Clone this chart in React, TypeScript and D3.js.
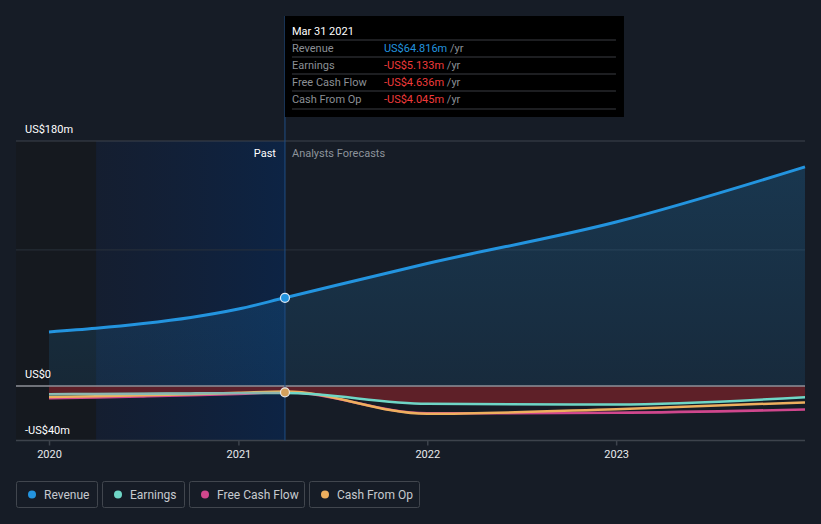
import React from "react";
import * as d3 from "d3";

const W = 821;
const H = 524;

const revenueDates = ["2019-12-31", "2020-03-31", "2020-06-30", "2020-09-30", "2020-12-31", "2021-03-31", "2021-12-31", "2022-12-31", "2023-12-31"];
const revenueValues = [39.7, 42.4, 45.9, 50.4, 56.6, 64.816, 90.0, 120.5, 161.0];

const earnDates = ["2019-12-31", "2020-03-31", "2020-06-30", "2020-09-30", "2020-12-31", "2021-03-31", "2021-12-31", "2022-12-31", "2023-12-31"];
const earningsValues = [-6.0, -5.8, -5.6, -5.4, -5.2, -5.133, -13.0, -13.6, -8.2];
const fcfValues = [-9.0, -8.4, -7.6, -6.8, -5.8, -4.636, -20.0, -19.6, -17.2];
const cfoValues = [-8.0, -7.5, -6.8, -6.0, -5.0, -4.045, -20.4, -17.0, -12.0];

const yTickValues = [180, 0, -40];
const yTickLabels = ["US$180m", "US$0", "-US$40m"];
const yGridValues = [180, 100];
const xTickYears = ["2020", "2021", "2022", "2023"];

const legendNames = ["Revenue", "Earnings", "Free Cash Flow", "Cash From Op"];
const legendColors = ["#2394df", "#6fd6c6", "#d0478d", "#eeaf5e"];

const tooltipDate = "Mar 31 2021";
const tooltipLabels = ["Revenue", "Earnings", "Free Cash Flow", "Cash From Op"];
const tooltipValues = ["US$64.816m", "-US$5.133m", "-US$4.636m", "-US$4.045m"];

const pastDate = "2021-03-31";
const highlightStart = "2020-03-31";

const parse = d3.timeParse("%Y-%m-%d");

export default function App() {
  const x = d3
    .scaleTime()
    .domain([parse("2019-12-31")!, parse("2023-12-31")!])
    .range([49, 805]);
  const y = d3.scaleLinear().domain([-40, 180]).range([440.5, 141]);

  const rev = revenueDates.map((d, i) => ({ d: parse(d)!, v: revenueValues[i] }));
  const earn = earnDates.map((d, i) => ({ d: parse(d)!, v: earningsValues[i] }));
  const fcf = earnDates.map((d, i) => ({ d: parse(d)!, v: fcfValues[i] }));
  const cfo = earnDates.map((d, i) => ({ d: parse(d)!, v: cfoValues[i] }));

  const line = d3
    .line<{ d: Date; v: number }>()
    .x((p) => x(p.d))
    .y((p) => y(p.v))
    .curve(d3.curveMonotoneX);
  const area = d3
    .area<{ d: Date; v: number }>()
    .x((p) => x(p.d))
    .y0(y(0))
    .y1((p) => y(p.v))
    .curve(d3.curveMonotoneX);

  const px = x(parse(pastDate)!);
  const hx = x(parse(highlightStart)!);
  const y0 = y(0);
  const font = "Roboto, 'Open Sans', sans-serif";

  const legendBoxes = [
    { x: 16, w: 81 },
    { x: 102, w: 82 },
    { x: 189, w: 115 },
    { x: 309, w: 110 },
  ];

  return (
    <svg width={W} height={H} style={{ position: "absolute", left: 0, top: 0, display: "block" }}>
      <defs>
        <linearGradient id="pastGrad" x1="0" x2="1" y1="0" y2="0">
          <stop offset="0%" stopColor="#13203a" stopOpacity={0.5} />
          <stop offset="100%" stopColor="#0c2446" stopOpacity={0.95} />
        </linearGradient>
        <linearGradient id="revGrad" x1="0" x2="0" y1="0" y2="1">
          <stop offset="0%" stopColor="#2394df" stopOpacity={0.22} />
          <stop offset="100%" stopColor="#2394df" stopOpacity={0.12} />
        </linearGradient>
        <clipPath id="clipPast">
          <rect x={0} y={0} width={px} height={H} />
        </clipPath>
      </defs>
      <rect x={0} y={0} width={W} height={H} fill="#161c26" />
      <rect x={16} y={141} width={hx - 16} height={y(-40) - 141} fill="#15191f" />
      <rect x={hx} y={141} width={px - hx} height={y(-40) - 141} fill="url(#pastGrad)" />

      {yGridValues.map((v) => (
        <line key={v} x1={16} x2={805} y1={y(v)} y2={y(v)} stroke={v === 180 ? "#3c434d" : "#2a313b"} strokeWidth={1} />
      ))}

      <path d={area(rev) ?? ""} fill="url(#revGrad)" />
      <path d={area(earn) ?? ""} fill="#6b2129" fillOpacity={0.85} />

      <line x1={16} x2={805} y1={y0} y2={y0} stroke="#8e9198" strokeWidth={1.5} />
      <line x1={16} x2={805} y1={y(-40)} y2={y(-40)} stroke="#3d434c" strokeWidth={1.5} />

      <line x1={px} x2={px} y1={16} y2={y(-40)} stroke="#1f4d85" strokeWidth={1} />

      <path d={line(fcf) ?? ""} fill="none" stroke={legendColors[2]} strokeWidth={2.5} />
      <path d={line(cfo) ?? ""} fill="none" stroke={legendColors[3]} strokeWidth={2.5} />
      <path d={line(earn) ?? ""} fill="none" stroke={legendColors[1]} strokeWidth={2.5} />
      <g clipPath="url(#clipPast)">
        <path d={line(earn) ?? ""} fill="none" stroke="#a09ea0" strokeWidth={2} strokeOpacity={0.6} />
      </g>
      <path d={line(rev) ?? ""} fill="none" stroke={legendColors[0]} strokeWidth={3} />

      <circle cx={px} cy={y(64.816)} r={4.5} fill={legendColors[0]} stroke="#dce8f5" strokeWidth={1.2} />
      <circle cx={px} cy={y(-4.6)} r={4.5} fill="#d4a05c" stroke="#e8e8e8" strokeWidth={1.2} />

      {yTickValues.map((v, i) => (
        <text
          key={v}
          x={25}
          y={y(v) - (v === -40 ? 7 : 8)}
          fill="#ffffff"
          fontFamily={font}
          fontSize={11}
        >
          {yTickLabels[i]}
        </text>
      ))}

      {xTickYears.map((yr) => {
        const xx = x(parse(`${yr}-01-01`)!);
        return (
          <g key={yr}>
            <line x1={xx} x2={xx} y1={y(-40)} y2={y(-40) + 5} stroke="#3d434c" strokeWidth={1.5} />
            <text x={xx} y={y(-40) + 17} textAnchor="middle" fill="#e8eaed" fontFamily={font} fontSize={11}>
              {yr}
            </text>
          </g>
        );
      })}

      <text x={px - 9} y={157} textAnchor="end" fill="#ffffff" fontFamily={font} fontSize={11}>
        Past
      </text>
      <text x={px + 7} y={157} fill="#8d939b" fontFamily={font} fontSize={11}>
        Analysts Forecasts
      </text>

      <rect x={px} y={16} width={339} height={101} fill="#000000" />
      <text x={px + 7} y={35} fill="#ffffff" fontFamily={font} fontSize={11}>
        {tooltipDate}
      </text>
      {tooltipLabels.map((lab, i) => {
        const ry = 52 + i * 17;
        return (
          <g key={lab}>
            <line x1={px + 7} x2={px + 331} y1={ry - 12} y2={ry - 12} stroke="#3a3d42" strokeWidth={1} />
            <text x={px + 7} y={ry} fill="#8b8f95" fontFamily={font} fontSize={11}>
              {lab}
            </text>
            <text x={px + 99} y={ry} fill={i === 0 ? "#2394df" : "#ef3b3b"} fontFamily={font} fontSize={11}>
              {tooltipValues[i]}
              <tspan fill="#8b8f95"> /yr</tspan>
            </text>
          </g>
        );
      })}
      <line x1={px + 7} x2={px + 331} y1={109} y2={109} stroke="#3a3d42" strokeWidth={1} />

      {legendNames.map((n, i) => {
        const b = legendBoxes[i];
        return (
          <g key={n}>
            <rect x={b.x + 0.5} y={481.5} width={b.w} height={26} rx={2} fill="none" stroke="#41464e" strokeWidth={1} />
            <circle cx={b.x + 16} cy={494.5} r={4} fill={legendColors[i]} />
            <text x={b.x + 28} y={498.5} fill="#c6cacf" fontFamily={font} fontSize={12}>
              {n}
            </text>
          </g>
        );
      })}
    </svg>
  );
}
